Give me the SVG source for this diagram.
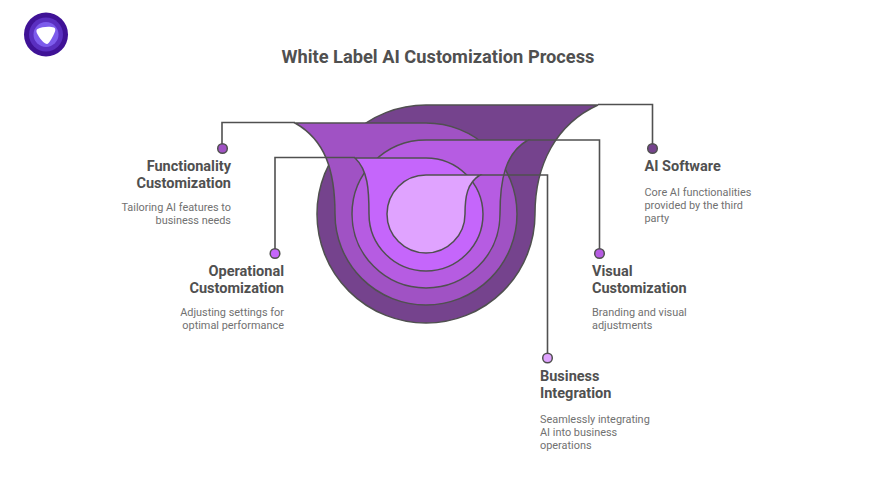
<svg xmlns="http://www.w3.org/2000/svg" width="876" height="493" viewBox="0 0 876 493">
<style>
text{font-family:Roboto,"Liberation Sans",sans-serif}
.t{font-size:18.250px;font-weight:700;fill:#505050}
.h{font-size:14.500px;font-weight:700;fill:#505050}
.d{font-size:10.900px;fill:#717171}
.e{text-anchor:end}
.s{stroke:#505050;stroke-width:1.500}
.c{fill:none;stroke:#505050;stroke-width:1.600}
</style>
<rect width="876" height="493" fill="#fff"/>
<g id="logo">
<circle cx="46" cy="34.500" r="22" fill="#3f1296"/>
<circle cx="46" cy="34.500" r="17" fill="#5a2fc0"/>
<circle cx="46" cy="34.500" r="12.500" fill="#7d5cec"/>
<path d="M37.500 29C42 26.500 50 26 54 27.500C56 28.500 55.500 31 53.500 35C51.500 39 49 43.500 47 44C44.500 44 41 40 38.500 36C36.500 32.500 35.500 30.500 37.500 29Z" fill="#fff"/>
</g>
<text class="t" x="438" y="62.500" text-anchor="middle">White Label AI Customization Process</text>
<g id="funnel-ai-software"><path class="s" fill="#75438d" d="M426 105L598 105C556 124 535 165 535 214A109 109 0 1 1 317 214A109 109 0 0 1 426 105Z"/></g>
<g id="funnel-functionality"><path class="s" fill="#a052c4" d="M295 123L426 123A91 91 0 0 1 517 214A91 91 0 0 1 335 214C335 170 325 140 295 123Z"/></g>
<g id="funnel-visual"><path class="s" fill="#b65ce2" d="M528 140L426 140A74 74 0 0 0 352 214A74 74 0 0 0 500 214C500 180 505 153 528 140Z"/></g>
<g id="funnel-operational"><path class="s" fill="#c566fb" d="M355 158L426 158A57 57 0 0 1 483 214A57 57 0 0 1 369 214C369 190 368 170 355 158Z"/></g>
<g id="funnel-business"><path class="s" fill="#e0a3ff" d="M480 175L426 175A39 39 0 0 0 387 214A39 39 0 0 0 465 214C465 197 467 183 480 175Z"/></g>
<g id="connectors">
<path class="c" d="M598 104.500H652.500V149"/>
<path class="c" d="M295 122.500H222V148"/>
<path class="c" d="M528 140H599.500V253.500"/>
<path class="c" d="M355 157.500H275V253.500"/>
<path class="c" d="M480 175H547.500V358"/>
</g>
<g id="node-ai-software">
<circle class="s" cx="652.500" cy="148.500" r="4.800" fill="#75438d"/>
<text class="h" x="644.500" y="171">AI Software</text>
<text class="d" x="644.500" y="196">Core AI functionalities</text>
<text class="d" x="644.500" y="209">provided by the third</text>
<text class="d" x="644.500" y="222">party</text>
</g>
<g id="node-functionality">
<circle class="s" cx="222.500" cy="148.500" r="4.800" fill="#a052c4"/>
<text class="h e" x="231" y="171">Functionality</text>
<text class="h e" x="231" y="188.400">Customization</text>
<text class="d e" x="231" y="211">Tailoring AI features to</text>
<text class="d e" x="231" y="224">business needs</text>
</g>
<g id="node-visual">
<circle class="s" cx="599.500" cy="253.500" r="4.800" fill="#b65ce2"/>
<text class="h" x="592" y="276">Visual</text>
<text class="h" x="592" y="293.400">Customization</text>
<text class="d" x="592" y="316">Branding and visual</text>
<text class="d" x="592" y="329">adjustments</text>
</g>
<g id="node-operational">
<circle class="s" cx="275" cy="253.500" r="4.800" fill="#c566fb"/>
<text class="h e" x="284" y="276">Operational</text>
<text class="h e" x="284" y="293.400">Customization</text>
<text class="d e" x="284" y="316">Adjusting settings for</text>
<text class="d e" x="284" y="329">optimal performance</text>
</g>
<g id="node-business">
<circle class="s" cx="547.500" cy="358" r="4.800" fill="#e0a3ff"/>
<text class="h" x="540" y="381">Business</text>
<text class="h" x="540" y="398.400">Integration</text>
<text class="d" x="540" y="423">Seamlessly integrating</text>
<text class="d" x="540" y="436">AI into business</text>
<text class="d" x="540" y="449">operations</text>
</g>
</svg>
